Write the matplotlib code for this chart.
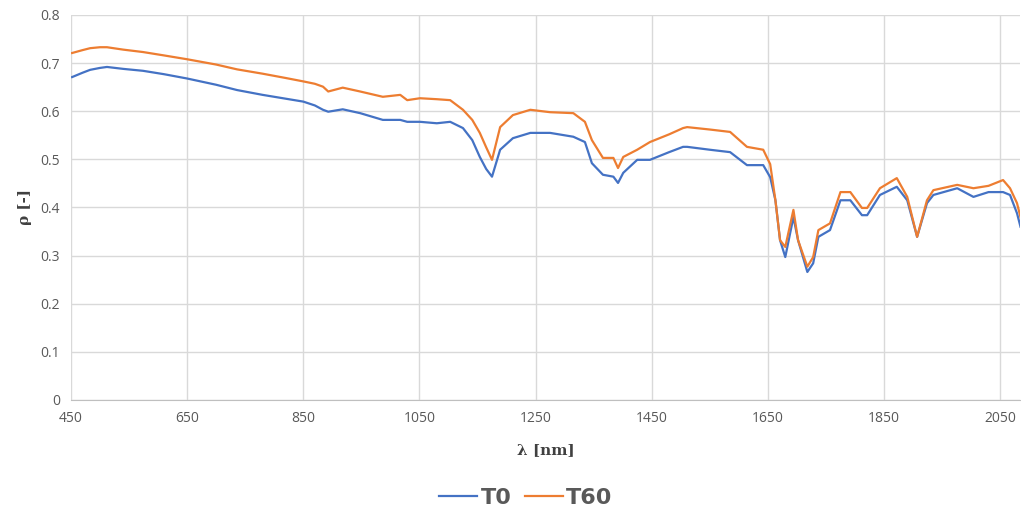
import matplotlib.pyplot as plt
import matplotlib.ticker as mticker

# wavelength points (nm) and reflectance
wl_t0 = [452, 470, 483, 500, 512, 540, 574, 610, 650, 700, 736, 780, 820, 850, 870,
         884, 893, 918, 948, 987, 1017, 1029, 1051, 1080, 1103, 1125, 1141, 1154, 1165,
         1175, 1189, 1211, 1241, 1275, 1315, 1335, 1347, 1366, 1384, 1392, 1401, 1425,
         1447, 1480, 1504, 1511, 1550, 1585, 1614, 1642, 1654, 1663, 1671, 1680, 1694,
         1702, 1718, 1728, 1737, 1757, 1775, 1792, 1812, 1821, 1843, 1872, 1890, 1907,
         1924, 1935, 1976, 2004, 2030, 2055, 2067, 2079, 2085]
t0 = [0.671, 0.680, 0.686, 0.690, 0.692, 0.688, 0.684, 0.677, 0.668, 0.655, 0.644,
      0.634, 0.626, 0.620, 0.612, 0.603, 0.599, 0.604, 0.596, 0.582, 0.582, 0.578,
      0.578, 0.575, 0.578, 0.565, 0.540, 0.505, 0.480, 0.464, 0.520, 0.544, 0.555,
      0.555, 0.547, 0.536, 0.492, 0.468, 0.464, 0.451, 0.472, 0.499, 0.499, 0.515,
      0.526, 0.526, 0.520, 0.515, 0.488, 0.488, 0.463, 0.415, 0.332, 0.297, 0.380,
      0.332, 0.266, 0.284, 0.339, 0.353, 0.415, 0.415, 0.384, 0.384, 0.426, 0.443,
      0.415, 0.339, 0.409, 0.426, 0.440, 0.422, 0.432, 0.432, 0.426, 0.388, 0.360]

wl_t60 = [452, 470, 483, 500, 512, 540, 574, 610, 650, 700, 736, 780, 820, 850, 870,
          884, 893, 918, 948, 987, 1017, 1029, 1051, 1080, 1103, 1125, 1141, 1154, 1165,
          1175, 1189, 1211, 1241, 1275, 1315, 1335, 1347, 1366, 1384, 1392, 1401, 1425,
          1447, 1480, 1504, 1511, 1550, 1585, 1614, 1642, 1654, 1663, 1671, 1680, 1694,
          1702, 1718, 1728, 1737, 1757, 1775, 1792, 1812, 1821, 1843, 1872, 1890, 1907,
          1924, 1935, 1976, 2004, 2030, 2055, 2067, 2079, 2085]
t60 = [0.721, 0.727, 0.731, 0.733, 0.733, 0.728, 0.723, 0.716, 0.708, 0.697, 0.687,
       0.678, 0.669, 0.662, 0.657, 0.651, 0.641, 0.649, 0.641, 0.630, 0.634, 0.623,
       0.627, 0.625, 0.623, 0.603, 0.582, 0.555, 0.525, 0.499, 0.567, 0.592, 0.603,
       0.598, 0.596, 0.578, 0.540, 0.503, 0.503, 0.482, 0.505, 0.520, 0.536, 0.552,
       0.565, 0.567, 0.562, 0.557, 0.526, 0.520, 0.490, 0.415, 0.332, 0.318, 0.395,
       0.332, 0.277, 0.297, 0.353, 0.367, 0.432, 0.432, 0.399, 0.399, 0.440, 0.461,
       0.422, 0.339, 0.415, 0.436, 0.447, 0.440, 0.445, 0.457, 0.440, 0.409, 0.380]

x_ticks = [450, 650, 850, 1050, 1250, 1450, 1650, 1850, 2050]
y_ticks = [0, 0.1, 0.2, 0.3, 0.4, 0.5, 0.6, 0.7, 0.8]

fig = plt.figure(figsize=(10.21, 5.13), dpi=100)
ax = fig.add_axes([0.0695, 0.2203, 0.93, 0.7505])

ax.plot(wl_t0, t0, color='#4472C4', lw=1.6, label='T0')
ax.plot(wl_t60, t60, color='#ED7D31', lw=1.6, label='T60')

ax.set_xlim(450, 2085)
ax.set_ylim(0, 0.8)
ax.set_xticks(x_ticks)
ax.set_yticks(y_ticks)
ax.yaxis.set_major_formatter(mticker.FuncFormatter(lambda v, p: '0' if v == 0 else f'{v:.1f}'))
ax.grid(True, color='#d9d9d9', lw=1)
ax.set_axisbelow(True)
for s in ['top', 'right', 'left']:
    ax.spines[s].set_visible(False)
ax.spines['bottom'].set_color('#bfbfbf')
ax.tick_params(length=0, labelsize=10, colors='#595959', pad=8)
for lab in ax.get_xticklabels() + ax.get_yticklabels():
    lab.set_family('Open Sans')

ax.set_xlabel('λ [nm]', fontsize=11, fontweight='bold', family='DejaVu Serif',
              color='#404040', labelpad=12)
ax.set_ylabel('ρ [-]', fontsize=11, fontweight='bold', family='DejaVu Serif',
              color='#404040', labelpad=6)

leg = fig.legend(loc='center', bbox_to_anchor=(0.515, 0.03), ncol=2, frameon=False,
                 handlelength=1.7, handletextpad=0.15, columnspacing=0.6,
                 prop={'family': ['Liberation Sans Narrow', 'DejaVu Sans'],
                       'weight': 'bold', 'size': 16})
for t in leg.get_texts():
    t.set_color('#595959')

fig.savefig('out.png', dpi=100)
